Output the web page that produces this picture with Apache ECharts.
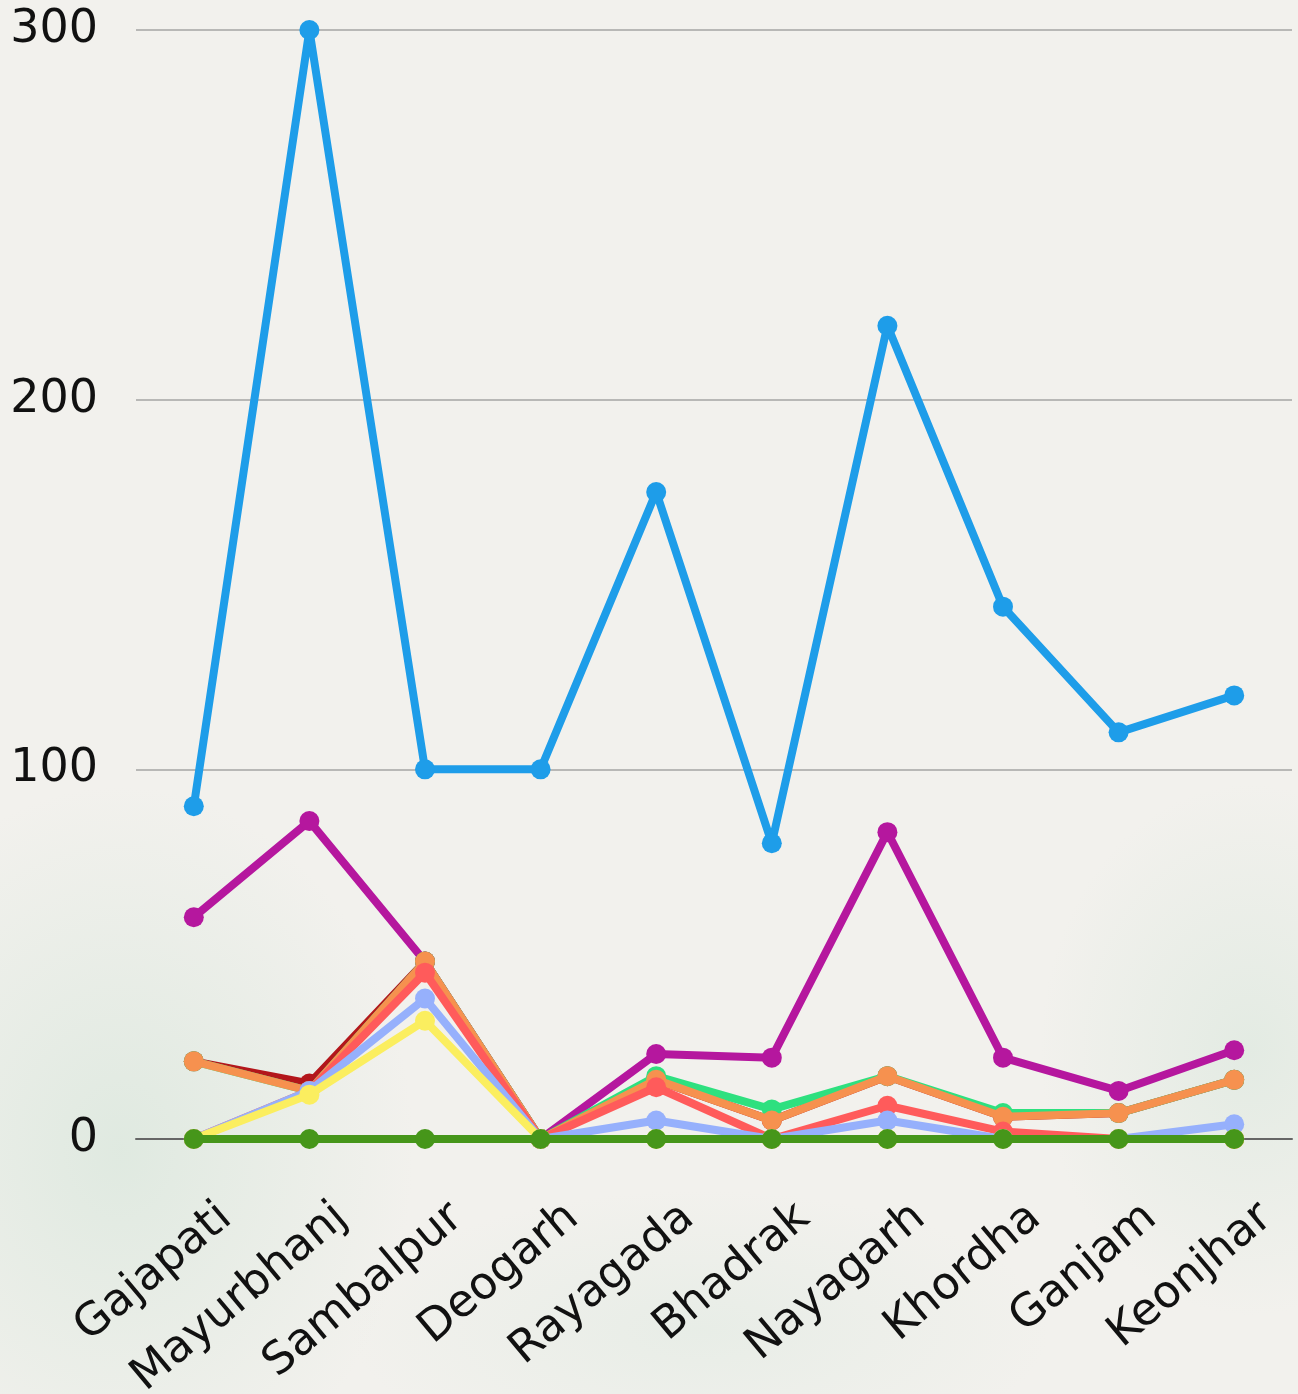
<!DOCTYPE html>
<html><head><meta charset="utf-8">
<script src="https://cdn.jsdelivr.net/npm/echarts@6/dist/echarts.min.js"></script>
<style>
html,body{margin:0;padding:0;}
body{width:1298px;height:1394px;background:#f2f1ed;
background-image:
 radial-gradient(ellipse 420px 520px at 120px 1150px, rgba(205,226,212,0.5), rgba(205,226,212,0) 70%),
 radial-gradient(ellipse 300px 380px at 1250px 1050px, rgba(205,226,212,0.4), rgba(205,226,212,0) 70%),
 radial-gradient(ellipse 500px 200px at 700px 1330px, rgba(208,228,216,0.3), rgba(208,228,216,0) 70%);}
#c{width:1298px;height:1394px;}
</style></head>
<body><div id="c"></div>
<script>
const categories = ["Gajapati","Mayurbhanj","Sambalpur","Deogarh","Rayagada","Bhadrak","Nayagarh","Khordha","Ganjam","Keonjhar"];
const yTicks = [0,100,200,300];
const blueVals = [90,300,100,100,175,80,220,144,110,120];
const purpleVals = [60,86,48,0,23,22,83,22,13,24];
const darkRedVals = [21,15,48,0,16,5,17,6,7,16];
const lightGreenVals = [21,13,48,0,17,8,17,7,7,16];
const orangeVals = [21,13,48,0,16,5,17,6,7,16];
const redVals = [0,13,45,0,14,0,9,2,0,0];
const lightBlueVals = [0,13,38,0,5,0,5,0,0,4];
const yellowVals = [0,12,32,0,0,0,0,0,0,0];
const darkGreenVals = [0,0,0,0,0,0,0,0,0,0];

const seriesDefs = [
  ["Blue", blueVals, "#1e9de9"],
  ["Purple", purpleVals, "#b5179e"],
  ["Dark red", darkRedVals, "#b3161b"],
  ["Light green", lightGreenVals, "#2ee07f"],
  ["Orange", orangeVals, "#f6914f"],
  ["Red", redVals, "#ff5b5b"],
  ["Light blue", lightBlueVals, "#96b0fc"],
  ["Yellow", yellowVals, "#fbee5f"],
  ["Dark green", darkGreenVals, "#46961a"]
];

const fontFam = '"DejaVu Sans", sans-serif';
const chart = echarts.init(document.getElementById('c'));
chart.setOption({
  animation:false,
  backgroundColor:'transparent',
  grid:{left:136,right:6,top:30,bottom:255,containLabel:false,outerBoundsMode:'none'},
  xAxis:{type:'category',data:categories,boundaryGap:true,
    axisLine:{show:true,lineStyle:{color:'#666',width:2}},
    axisTick:{show:false},
    axisLabel:{rotate:40,color:'#111',fontSize:45,fontFamily:fontFam,margin:100,interval:0,padding:[0,-42,0,0]}},
  yAxis:{type:'value',min:0,max:300,interval:100,
    axisLine:{show:false},axisTick:{show:false},
    splitLine:{lineStyle:{color:'#b8b8b6',width:2}},
    axisLabel:{color:'#111',fontSize:46,fontFamily:fontFam,margin:38,
      formatter:v=>yTicks.includes(v)?String(v):''}},
  series: seriesDefs.map(([name,data,color],i)=>({
    name, type:'line', data, z:2+i,
    symbol:'circle', symbolSize:20, showSymbol:true,
    lineStyle:{width:8,color}, itemStyle:{color},
    emphasis:{disabled:true}
  }))
});
</script></body></html>
